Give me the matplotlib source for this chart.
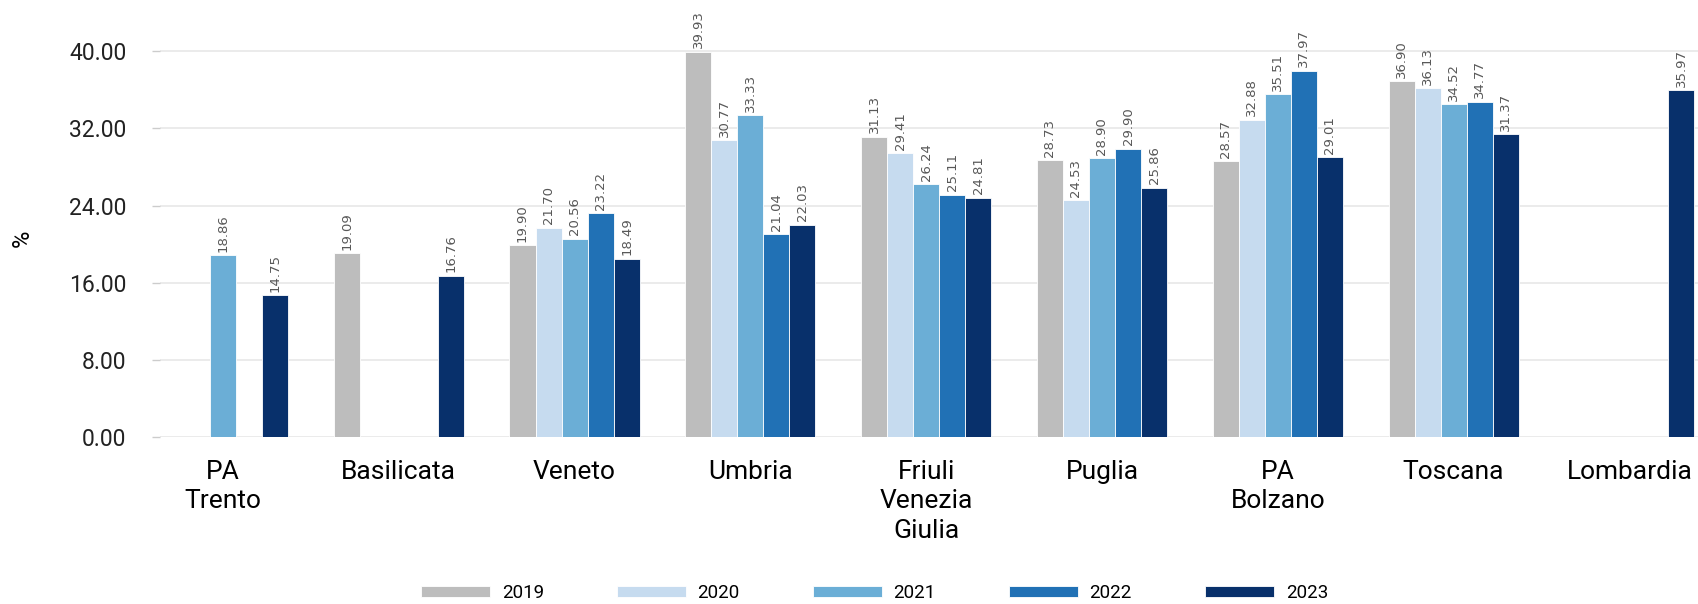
import numpy as np
import matplotlib.pyplot as plt

# dati
regioni = ["PA\nTrento", "Basilicata", "Veneto", "Umbria", "Friuli\nVenezia\nGiulia",
           "Puglia", "PA\nBolzano", "Toscana", "Lombardia"]
anni = ["2019", "2020", "2021", "2022", "2023"]
v2019 = [None, 19.09, 19.90, 39.93, 31.13, 28.73, 28.57, 36.90, None]
v2020 = [None, None, 21.70, 30.77, 29.41, 24.53, 32.88, 36.13, None]
v2021 = [18.86, None, 20.56, 33.33, 26.24, 28.90, 35.51, 34.52, None]
v2022 = [None, None, 23.22, 21.04, 25.11, 29.90, 37.97, 34.77, None]
v2023 = [14.75, 16.76, 18.49, 22.03, 24.81, 25.86, 29.01, 31.37, 35.97]
colori = ["#bdbdbd", "#c6dbef", "#6baed6", "#2171b5", "#08306b"]

serie = [v2019, v2020, v2021, v2022, v2023]

fig = plt.figure(figsize=(16.98, 6.04), dpi=100)
ax = fig.add_axes([0.094, 0.2757, 0.906, 0.7243])

x = np.arange(len(regioni))
w = 0.148
for i, (anno, vals, col) in enumerate(zip(anni, serie, colori)):
    vv = np.array([np.nan if v is None else v for v in vals], dtype=float)
    pos = x + (i - 2) * w
    ax.bar(pos, vv, width=w, color=col, edgecolor="white", linewidth=0.6,
           label=anno, zorder=3)
    # etichette dei valori
    for p, v in zip(pos, vv):
        if not np.isnan(v):
            ax.text(p, v + 0.35, f"{v:.2f}", rotation=90, ha="center", va="bottom",
                    fontsize=9.5, color="#585858", zorder=4)

ax.set_xlim(-0.36, 8.39)
ax.set_ylim(0, 45.28)
ticks = [0, 8, 16, 24, 32, 40]
ax.set_yticks(ticks)
ax.set_yticklabels([f"{t:.2f}" for t in ticks], fontsize=16.5, family="Roboto",
                   color="#222222")
ax.tick_params(axis="y", length=6, width=1, color="#cccccc", pad=18)
ax.set_xticks(x)
ax.set_xticklabels(regioni, fontsize=19, family="Roboto", linespacing=1.3)
ax.tick_params(axis="x", length=0, pad=16)
ax.grid(axis="y", color="#e8e8e8", linewidth=1.2, zorder=0)
for s in ax.spines.values():
    s.set_visible(False)

ax.set_ylabel("%", fontsize=17, family="Roboto")
ax.yaxis.set_label_coords(-0.082, 0.456)

fig.legend(loc="center", bbox_to_anchor=(0.515, 0.018), ncol=5, frameon=False,
           prop={"family": "Roboto", "size": 13.5},
           handlelength=3.7, handleheight=0.6, handletextpad=0.6,
           columnspacing=3.9)

fig.savefig("out.png", dpi=100)
